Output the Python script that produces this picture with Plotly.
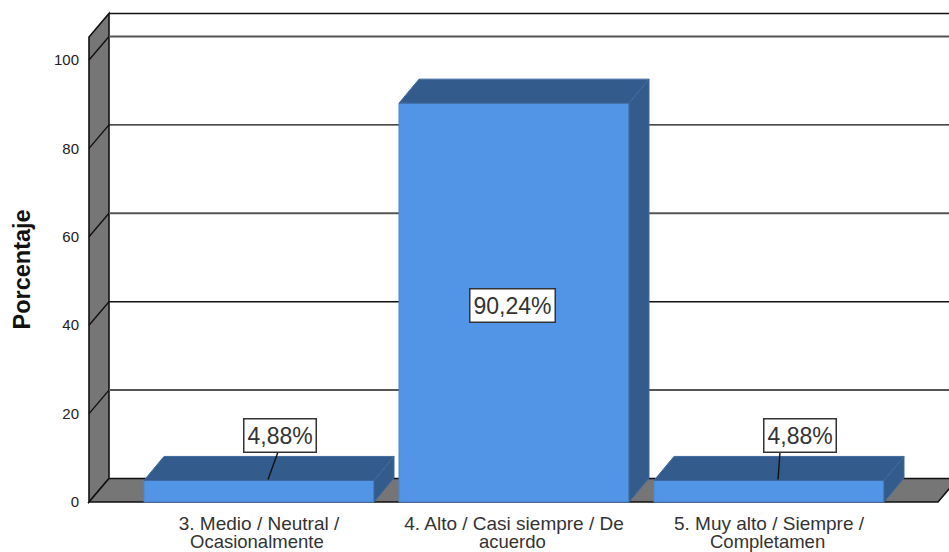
import plotly.graph_objects as go

category_line1 = ["3. Medio / Neutral /", "4. Alto / Casi siempre / De", "5. Muy alto / Siempre /"]
category_line2 = ["Ocasionalmente", "acuerdo", "Completamen"]
values = [4.88, 90.24, 4.88]
value_labels = ["4,88%", "90,24%", "4,88%"]
y_ticks = [0, 20, 40, 60, 80, 100]

# layout constants (pixels in the window)
PX_X = 255.0
PX_Y = 4.42
CX0, Y0 = 259.0, 502.0
L, R, T, B = 85, 949, 10, 506
def X(px): return (px - CX0) / PX_X
def Y(px): return (Y0 - px) / PX_Y
DX = 20 / PX_X
DY_WALL = 23.5 / PX_Y
DY_BAR = 24 / PX_Y
BAR_W = 230 / PX_X
WALL_TOP = Y(37)
WALL_L, FLOOR_R = X(89), X(938)
FRONT = "#5294E5"
DARK = "#335B8C"
WALL = "#767676"

shapes = []
def poly(pts, fill, lw=1.0, lc="#111111"):
    d = "M " + " L ".join(f"{x},{y}" for x, y in pts) + " Z"
    shapes.append(dict(type="path", path=d, xref="x", yref="y", fillcolor=fill,
                       line=dict(color=lc, width=lw), layer="below"))
def line(x0, y0, x1, y1, color="#111111", lw=1.0):
    shapes.append(dict(type="line", x0=x0, y0=y0, x1=x1, y1=y1, xref="x", yref="y",
                       line=dict(color=color, width=lw), layer="below"))

poly([(WALL_L, 0), (WALL_L + DX, DY_WALL), (WALL_L + DX, WALL_TOP + DY_WALL), (WALL_L, WALL_TOP)], WALL, 1.6)
poly([(WALL_L, 0), (FLOOR_R, 0), (FLOOR_R + DX, DY_WALL), (WALL_L + DX, DY_WALL)], WALL, 1.6)
line(WALL_L + DX, WALL_TOP + DY_WALL, X(960), WALL_TOP + DY_WALL, lw=1.6)
for i, t in enumerate(y_ticks):
    if t > 0:
        line(WALL_L, t, WALL_L + DX, t + DY_WALL, lw=1.4)
        line(WALL_L + DX, t + DY_WALL, X(960), t + DY_WALL,
             color="#111111" if i % 2 == 0 else "#555555", lw=1.4 if i % 2 == 0 else 2)

fig = go.Figure()
fig.add_trace(go.Bar(x=[0, 1, 2], y=values, width=BAR_W, marker=dict(color=FRONT, line=dict(color="#4A85CF", width=1)),
                     showlegend=False, hoverinfo="skip"))
for i, v in enumerate(values):
    xl, xr = i - BAR_W / 2, i + BAR_W / 2
    fig.add_trace(go.Scatter(x=[xl, xr, xr + DX, xl + DX, xl], y=[v, v, v + DY_BAR, v + DY_BAR, v],
                             mode="lines", fill="toself", fillcolor=DARK, line=dict(color="#3E6A9F", width=1),
                             showlegend=False, hoverinfo="skip"))
    fig.add_trace(go.Scatter(x=[xr, xr + DX, xr + DX, xr, xr], y=[0, DY_BAR, v + DY_BAR, v, 0],
                             mode="lines", fill="toself", fillcolor=DARK, line=dict(color="#3E6A9F", width=1),
                             showlegend=False, hoverinfo="skip"))

# leaders and value labels
box_dx = [20.5, -1.5, 30.5]
leader_top = [19, None, 11]
for i, v in enumerate(values):
    if leader_top[i] is not None:
        fig.add_trace(go.Scatter(x=[i + 9 / PX_X, i + leader_top[i] / PX_X], y=[v + 1 / PX_Y, Y(452)],
                                 mode="lines", line=dict(color="#111111", width=1.4),
                                 showlegend=False, hoverinfo="skip"))
    ypos = Y(305) if v > 50 else Y(435)
    fig.add_annotation(x=i + box_dx[i] / PX_X, y=ypos, xref="x", yref="y", text=value_labels[i],
                       showarrow=False, xanchor="center", yanchor="middle",
                       font=dict(family="Liberation Sans", size=23, color="#333333"),
                       bgcolor="white", bordercolor="#333333", borderwidth=1.5, borderpad=3)
    # second line of the category label, set tighter than a <br> would give
    fig.add_annotation(x=i - 2 / PX_X, y=(B - 541.5) / (B - T), xref="x", yref="paper",
                       text=category_line2[i], showarrow=False, xanchor="center", yanchor="middle",
                       font=dict(family="Liberation Sans", size=18.5, color="#333333"))

fig.add_annotation(x=(21 - L) / (R - L), y=(B - 269.5) / (B - T), xref="paper", yref="paper",
                   xanchor="center", yanchor="middle",
                   text="<b>Porcentaje</b>", textangle=-90, showarrow=False,
                   font=dict(family="Liberation Sans", size=23.5, color="#111111"))

fig.update_layout(
    width=949, height=552, autosize=False, plot_bgcolor="white", paper_bgcolor="white",
    margin=dict(l=L, r=949 - R, t=T, b=552 - B), shapes=shapes, showlegend=False,
    font=dict(family="Liberation Sans", color="#222222"),
    xaxis=dict(range=[X(L), X(R)], tickmode="array", tickvals=[0, 1, 2], ticktext=category_line1,
               showgrid=False, zeroline=False, showline=False, ticks="outside", ticklen=0,
               tickcolor="rgba(0,0,0,0)", tickfont=dict(size=19, color="#333333"), tickangle=0),
    yaxis=dict(range=[Y(B), Y(T)], tickmode="array", tickvals=y_ticks, ticktext=[str(t) for t in y_ticks],
               showgrid=False, zeroline=False, showline=False, ticks="outside", ticklen=2,
               tickcolor="rgba(0,0,0,0)", tickfont=dict(size=15, color="#222222")),
)
fig.write_html("out.html", config=dict(displayModeBar=False),
               post_script="document.body.style.margin='0';document.documentElement.style.overflow='hidden';")
